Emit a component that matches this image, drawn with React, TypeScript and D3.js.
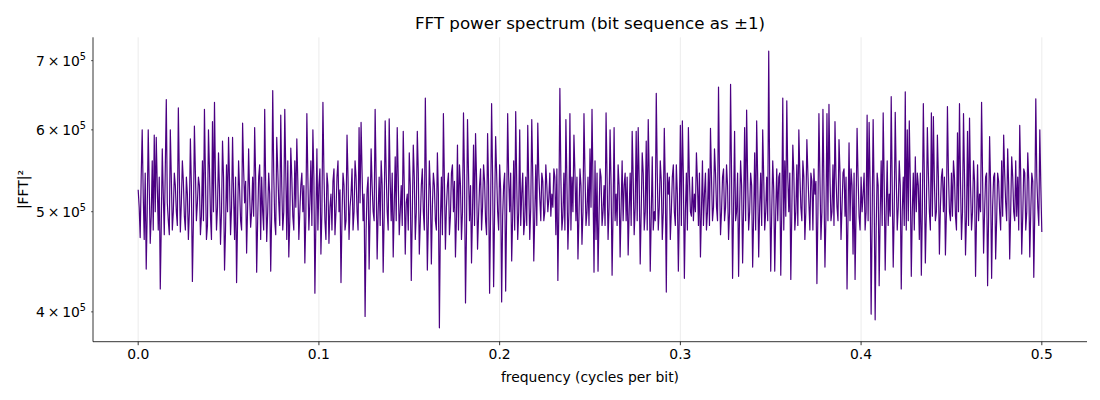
import * as d3 from "d3"

// |FFT|^2, in thousands.
// Even frequency bins (0, 1/900, 2/900 ... 0.5)
const powerEven = [
  525, 472, 600, 470, 440, 600, 466, 560, 593, 590, 480, 421, 575, 475, 642, 490, 600, 480, 545, 500,
  630, 478, 560, 495, 540, 470, 588, 428, 605, 490, 540, 475, 560, 628, 470, 600, 495, 611, 638, 480,
  570, 465, 585, 439, 555, 590, 475, 590, 470, 427, 560, 490, 609, 510, 456, 575,
  483, 540, 603, 437, 540, 470, 500, 628, 468, 545, 438, 655, 490, 590, 510, 620, 480, 628, 470, 452,
  576, 495, 560, 588, 470, 530, 500, 446, 622, 480, 560, 600, 417, 575, 530, 455, 638, 490, 545, 466,
  520, 535, 475, 540, 500, 427, 545, 480, 593, 470, 520, 480, 560, 500, 603, 610, 490, 396, 525, 440,
  575, 500, 628, 450, 540, 560, 437, 612, 500, 615, 490, 452, 565, 603, 475, 530, 598, 455, 520, 570,
  429, 580, 470, 598, 455, 530, 500, 644, 439, 560, 445, 545, 490, 570, 386, 540, 622, 460, 530, 475,
  545, 500, 452, 580, 555, 470, 623, 408, 614, 490, 446, 580, 595, 460, 530, 480, 555, 490, 595, 417,
  636, 423, 591, 500, 555, 409, 530, 419, 622, 500, 448, 560, 625, 470, 600, 520, 475, 540, 606, 470,
  614, 448, 555, 609, 515, 545, 490, 555, 500, 545, 520, 550, 475, 429, 658, 480, 545, 614, 460, 622,
  540, 593, 490, 450, 550, 465, 622, 485, 540, 575, 628, 437, 470, 438, 550, 485, 530, 623, 470, 600,
  434, 603, 520, 555, 452, 560, 530, 490, 454, 545, 598, 475, 598, 603, 445, 570, 480, 585, 614, 438,
  565, 500, 651, 480, 560, 470, 602, 418, 520, 470, 540, 500, 555, 438, 606, 612, 431, 545, 603, 500,
  540, 520, 570, 485, 452, 560, 520, 480, 550, 602, 490, 575, 505, 660, 475, 540, 490, 555, 470, 664,
  431, 598, 500, 433, 560, 446, 603, 627, 480, 545, 442, 570, 612, 452, 545, 600, 480, 540, 715, 438,
  560, 438, 550, 540, 434, 644, 560, 640, 500, 430, 580, 480, 555, 600, 505, 560, 470, 587, 510, 545,
  480, 520, 426, 622, 470, 628, 442, 622, 635, 490, 555, 611, 505, 587, 470, 545, 495, 421, 583,
  550, 455, 430, 602, 495, 540, 520, 480, 620, 610, 398, 614, 393, 545, 424, 560, 623, 439, 560, 520,
  646, 442, 624, 480, 560, 421, 540, 653, 600, 612, 433, 545, 565, 545, 470, 434, 636, 446, 603, 500,
  623, 618, 490, 593, 455, 540, 500, 454, 632, 500, 545, 560, 495, 596, 636, 470, 622, 454, 598, 616,
  480, 560, 433, 555, 520, 638, 456, 540, 424, 591, 431, 540, 450, 545, 500, 560, 593, 510, 575, 450,
  565, 500, 560, 540, 606, 455, 550, 480, 570, 452, 545, 432, 643, 505, 600, 478,
]

// Odd frequency bins (1/1800, 3/1800 ...), the dense band between the spikes
const powerOdd = [
  505, 540, 520, 545, 500, 530, 495, 480, 500, 530, 540, 485, 520, 550, 510, 475, 540, 500, 530, 485,
  540, 510, 535, 480, 520, 500, 530, 490, 545, 510, 530, 495, 490, 540, 485, 550, 470, 500, 535, 505,
  525, 500, 540, 480, 500, 535, 505, 520, 540, 490, 525, 480, 550, 535, 505, 520,
  500, 495, 540, 490, 555, 540, 480, 530, 500, 520, 500, 545, 475, 550, 485, 530, 500, 545, 560, 490,
  540, 480, 505, 535, 500, 545, 530, 495, 540, 510, 485, 540, 490, 480, 550, 500, 545, 470, 530, 505,
  480, 550, 500, 560, 525, 495, 530, 490, 540, 505, 550, 500, 540, 480, 510, 545, 520, 480, 540, 500,
  530, 490, 540, 500, 485, 530, 495, 545, 480, 535, 545, 505, 490, 540, 500, 485, 530, 510, 480, 530,
  495, 540, 500, 545, 490, 550, 480, 535, 490, 525, 505, 530, 480, 520, 490, 475, 535, 505, 545, 495,
  555, 535, 495, 480, 530, 500, 540, 480, 545, 530, 500, 485, 540, 495, 550, 505, 535, 475, 530, 500,
  540, 500, 545, 480, 525, 495, 545, 500, 540, 545, 495, 480, 535, 500, 485, 545, 490, 485, 530, 505,
  540, 495, 485, 545, 490, 535, 500, 530, 515, 495, 505, 540, 550, 505, 540, 495, 480, 535, 500, 480,
  500, 545, 540, 495, 530, 500, 545, 500, 485, 505, 530, 560, 545, 495, 540, 500, 485, 540, 505, 530,
  500, 490, 485, 530, 505, 490, 545, 540, 500, 485, 540, 505, 490, 535, 500, 545, 500, 480, 540, 495,
  480, 490, 545, 505, 535, 500, 530, 545, 540, 500, 555, 485, 520, 500, 485, 540, 500, 480, 540, 495,
  490, 500, 535, 545, 500, 485, 545, 500, 485, 540, 505, 545, 490, 540, 500, 550, 505, 530, 500, 540,
  505, 490, 545, 500, 530, 505, 490, 540, 500, 530, 495, 480, 540, 505, 485, 540, 500, 490, 530, 500,
  525, 500, 490, 545, 500, 480, 495, 540, 545, 500, 545, 500, 485, 545, 490, 540, 500, 545, 480, 535,
  550, 535, 500, 540, 500, 530, 495, 490, 540, 500, 485, 540, 490, 545, 505, 550, 540, 495, 490,
  530, 545, 500, 540, 480, 500, 545, 500, 490, 530, 490, 520, 480, 530, 495, 485, 535, 500, 485, 495,
  530, 500, 540, 505, 530, 500, 485, 480, 490, 535, 500, 480, 500, 530, 545, 500, 540, 500, 545, 480,
  495, 535, 500, 540, 505, 550, 540, 500, 545, 490, 495, 540, 480, 500, 535, 500, 540, 495, 485, 530,
  500, 535, 495, 490, 500, 540, 500, 545, 495, 530, 505, 545, 490, 535, 480, 495, 545, 490, 530, 500,
  540, 490, 495, 480, 540, 495, 545, 500, 535, 500, 535, 500, 540, 485, 530,
]

const xTicks = [0, 0.1, 0.2, 0.3, 0.4, 0.5]
const yTickMant = [4, 5, 6, 7] // times 10^5

const FONT = "DejaVu Sans, sans-serif"
const LEFT = 93
const RIGHT = 1087
const TOP = 37.3
const BOTTOM = 341.7

export default function App() {
  const merged: number[] = []
  powerEven.forEach((v, i) => {
    merged.push(v)
    if (i < powerOdd.length) merged.push(powerOdd[i])
  })
  const data = merged.map((v, k) => ({ f: k / (2 * (merged.length - 1)), p: v * 1000 }))

  const x = d3.scaleLinear().domain([-0.025, 0.525]).range([LEFT, RIGHT])

  const [pMin, pMax] = d3.extent(data, (d) => d.p) as [number, number]
  const lo = Math.log10(pMin)
  const hi = Math.log10(pMax)
  const pad = (hi - lo) * 0.05
  const y = d3
    .scaleLog()
    .domain([Math.pow(10, lo - pad), Math.pow(10, hi + pad)])
    .range([BOTTOM, TOP])

  const line = d3
    .line<{ f: number; p: number }>()
    .x((d) => x(d.f))
    .y((d) => y(d.p))

  return (
    <svg
      width={1100}
      height={400}
      style={{ position: "absolute", left: 0, top: 0, background: "#fff" }}
      fontFamily={FONT}
    >
      {/* vertical grid */}
      {xTicks.map((t) => (
        <line key={"g" + t} x1={x(t)} x2={x(t)} y1={TOP} y2={BOTTOM} stroke="#b0b0b0" strokeOpacity={0.3} strokeWidth={0.8} />
      ))}

      <path d={line(data) ?? ""} fill="none" stroke="#4b0082" strokeWidth={1.2} strokeLinejoin="round" />

      {/* spines */}
      <line x1={LEFT} x2={LEFT} y1={TOP} y2={BOTTOM} stroke="#000" strokeWidth={0.8} />
      <line x1={LEFT} x2={RIGHT} y1={BOTTOM} y2={BOTTOM} stroke="#000" strokeWidth={0.8} />

      {/* x ticks */}
      {xTicks.map((t) => (
        <g key={"x" + t}>
          <line x1={x(t)} x2={x(t)} y1={BOTTOM} y2={BOTTOM + 3.5} stroke="#000" strokeWidth={0.8} />
          <text x={x(t)} y={BOTTOM + 17.5} textAnchor="middle" fontSize={13.9} fill="#000">
            {d3.format(".1f")(t)}
          </text>
        </g>
      ))}

      {/* y ticks (log minor ticks with labels) */}
      {yTickMant.map((m) => {
        const yy = y(m * 1e5)
        return (
          <g key={"y" + m}>
            <line x1={LEFT - 2} x2={LEFT} y1={yy} y2={yy} stroke="#000" strokeWidth={0.6} />
            <text x={LEFT - 7} y={yy + 5} textAnchor="end" fontSize={13.9} fill="#000">
              {m}
              {"\u2009×\u2009"}10
              <tspan fontSize={9.7} dy={-6}>
                5
              </tspan>
            </text>
          </g>
        )
      })}

      <text x={(LEFT + RIGHT) / 2} y={29} textAnchor="middle" fontSize={16.7} fill="#000">
        FFT power spectrum (bit sequence as ±1)
      </text>
      <text x={(LEFT + RIGHT) / 2} y={382} textAnchor="middle" fontSize={13.9} fill="#000">
        frequency (cycles per bit)
      </text>
      <text
        transform={`translate(23, ${(TOP + BOTTOM) / 2}) rotate(-90)`}
        textAnchor="middle"
        dominantBaseline="central"
        fontSize={13.9}
        fill="#000"
      >
        |FFT|²
      </text>
    </svg>
  )
}
